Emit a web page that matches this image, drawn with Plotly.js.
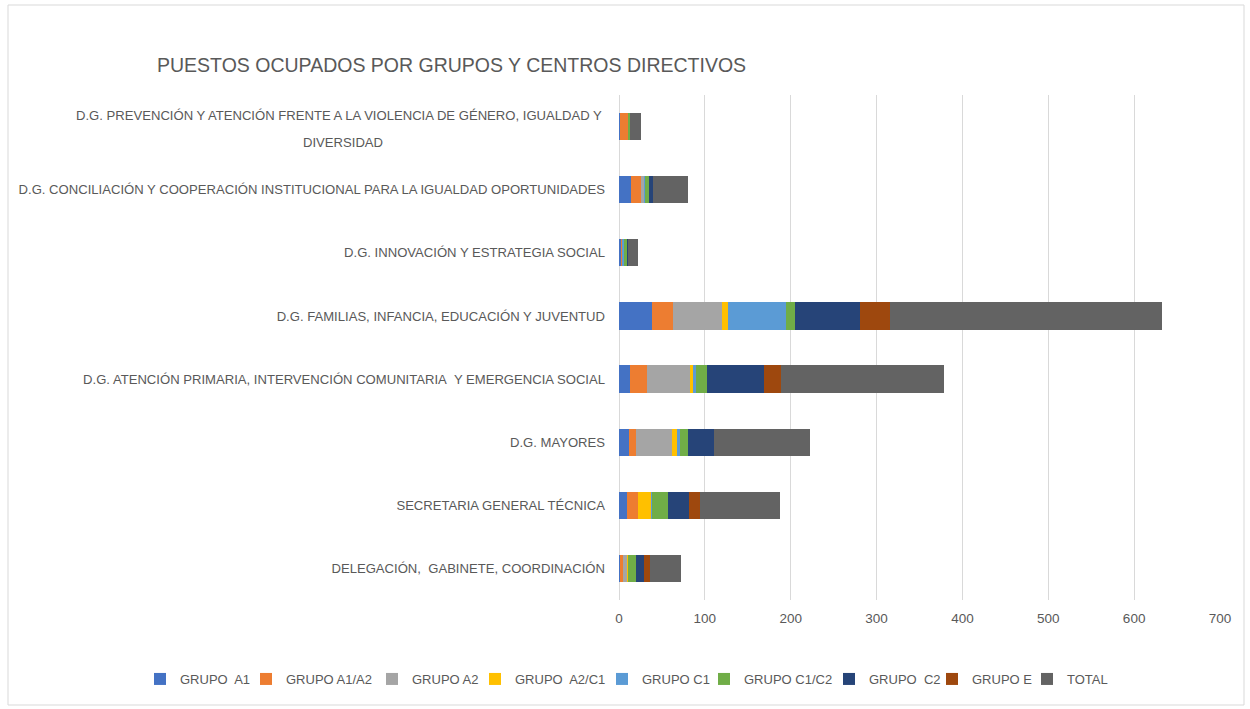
<!DOCTYPE html>
<html>
<head>
<meta charset="utf-8">
<script src="https://cdn.plot.ly/plotly-3.0.1.min.js"></script>
<style>html,body{margin:0;padding:0;background:#fff;}#chart{width:1250px;height:709px;}</style>
</head>
<body>
<div id="chart"></div>
<script>
// Categories bottom to top
const categories = [
  "DELEGACIÓN,\u00A0 GABINETE, COORDINACIÓN",
  "SECRETARIA GENERAL TÉCNICA",
  "D.G. MAYORES",
  "D.G. ATENCIÓN PRIMARIA, INTERVENCIÓN COMUNITARIA\u00A0 Y EMERGENCIA SOCIAL",
  "D.G. FAMILIAS, INFANCIA, EDUCACIÓN Y JUVENTUD",
  "D.G. INNOVACIÓN Y ESTRATEGIA SOCIAL",
  "D.G. CONCILIACIÓN Y COOPERACIÓN INSTITUCIONAL PARA LA IGUALDAD OPORTUNIDADES",
  "D.G. PREVENCIÓN Y ATENCIÓN FRENTE A LA VIOLENCIA DE GÉNERO, IGUALDAD Y DIVERSIDAD"
];
const topLabelLines = ["D.G. PREVENCIÓN Y ATENCIÓN FRENTE A LA VIOLENCIA DE GÉNERO, IGUALDAD Y", "DIVERSIDAD"];

const seriesNames = ["GRUPO  A1","GRUPO A1/A2","GRUPO A2","GRUPO  A2/C1","GRUPO C1","GRUPO C1/C2","GRUPO  C2","GRUPO E","TOTAL"];

const grupoA1   = [1,  9,  12, 13, 39, 2, 14, 1];
const grupoA1A2 = [4,  13, 8,  20, 24, 2, 12, 10];
const grupoA2   = [4,  0,  42, 50, 57, 0, 3,  0];
const grupoA2C1 = [1,  15, 5,  3,  7,  0, 0,  0];
const grupoC1   = [0,  1,  4,  4,  67, 2, 1,  0];
const grupoC1C2 = [10, 19, 9,  13, 11, 3, 5,  2];
const grupoC2   = [9,  24, 31, 66, 76, 2, 5,  0];
const grupoE    = [7,  13, 0,  20, 35, 0, 0,  0];
const total     = [36, 94, 111, 189, 316, 11, 40, 13];

const seriesValues = [grupoA1, grupoA1A2, grupoA2, grupoA2C1, grupoC1, grupoC1C2, grupoC2, grupoE, total];
const colors = ["#4472C4","#ED7D31","#A5A5A5","#FFC000","#5B9BD5","#70AD47","#264478","#9E480E","#636363"];

const FONT = "Liberation Sans, Arial, sans-serif";
const FS = 13.1;
const idx = categories.map((c,i)=>i);

// legend text start positions (px) as in the reference
const legendTextPos = [178, 284, 410, 513, 640, 742, 867, 970, 1065];

const traces = seriesNames.map((n,k)=>({
  type:"bar", orientation:"h", name:n,
  y: idx, x: seriesValues[k],
  marker:{color:colors[k], line:{width:0}},
  legend: k===0 ? "legend" : "legend"+(k+1),
  hoverinfo:"x+name"
}));

const ticktext = categories.map((c,i)=> i===categories.length-1 ? "" : c);

const layout = {
  width:1250, height:709,
  paper_bgcolor:"#ffffff", plot_bgcolor:"#ffffff",
  margin:{l:619, r:30, t:95, b:109},
  barmode:"stack", bargap:0.57,
  font:{family:FONT, size:FS, color:"#595959"},
  title:{text:"PUESTOS OCUPADOS POR GRUPOS Y CENTROS DIRECTIVOS", x:157/1250, xanchor:"left", xref:"container",
         y:1-65/709, yanchor:"middle", yref:"container", font:{family:FONT, size:19.5, color:"#595959"}},
  xaxis:{range:[0,700], dtick:100, tick0:0, showgrid:true, gridcolor:"#D9D9D9", gridwidth:1,
         zeroline:true, zerolinecolor:"#D9D9D9", zerolinewidth:1, showline:false,
         ticks:"", ticklabelstandoff:8, tickfont:{family:FONT, size:13.5, color:"#595959"}, fixedrange:true},
  yaxis:{tickmode:"array", tickvals:idx, ticktext:ticktext, range:[-0.5,7.5], showgrid:false,
         zeroline:false, showline:false, ticks:"", ticklabelstandoff:13, automargin:false,
         tickfont:{family:FONT, size:FS, color:"#595959"}, fixedrange:true},
  showlegend:true,
  annotations:[
    {text:topLabelLines[0], xref:"paper", yref:"y", x:(604-619)/601, y:7, xanchor:"right", yanchor:"middle", yshift:11,
     showarrow:false, font:{family:FONT, size:FS, color:"#595959"}},
    {text:topLabelLines[1], xref:"paper", yref:"y", x:(343-619)/601, y:7, xanchor:"center", yanchor:"middle", yshift:-16,
     showarrow:false, font:{family:FONT, size:FS, color:"#595959"}}
  ],
  shapes:[
    {type:"rect", xref:"paper", yref:"paper", x0:(8-619)/601, x1:(1244-619)/601, y0:(600-705)/505, y1:(600-5)/505,
     line:{color:"#D9D9D9", width:1}, fillcolor:"rgba(0,0,0,0)"}
  ]
};

legendTextPos.forEach((px,k)=>{
  const key = k===0 ? "legend" : "legend"+(k+1);
  layout[key] = {orientation:"h", x:(px-38)/1250, xanchor:"left", xref:"container", y:1-679/709, yanchor:"middle", yref:"container",
    font:{family:FONT, size:13, color:"#595959"}, itemwidth:30, itemclick:false, bgcolor:"rgba(0,0,0,0)"};
});

Plotly.newPlot("chart", traces, layout, {displayModeBar:false, staticPlot:true});
</script>
</body>
</html>
